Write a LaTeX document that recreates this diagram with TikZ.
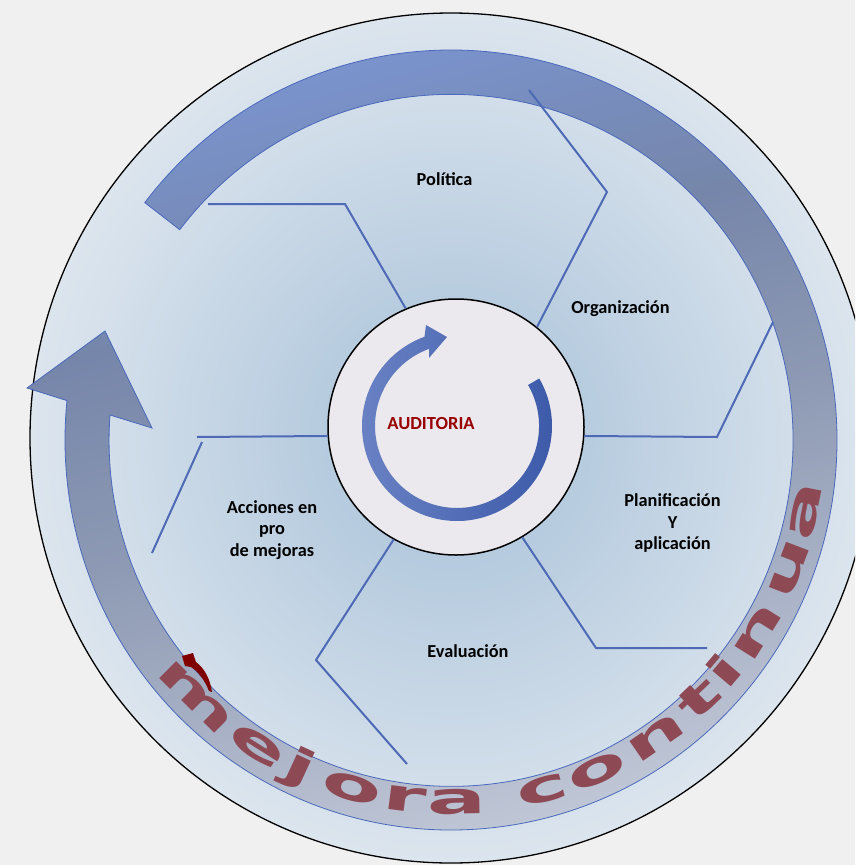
\documentclass[tikz,border=0pt]{standalone}
\usepackage{fontspec}
\setmainfont{Carlito}
\newfontfamily\wafont{DejaVu Sans}
\usetikzlibrary{arrows.meta}
\definecolor{bgc}{HTML}{F0F0F0}
\definecolor{discin}{HTML}{A6C0D8}
\definecolor{discout}{HTML}{DCE5EE}
\definecolor{sepblue}{HTML}{4E6AB6}
\definecolor{bandedge}{HTML}{4A68BC}
\definecolor{bandblue}{HTML}{7B96D4}
\definecolor{bandbg}{HTML}{788EC0}
\definecolor{bandgb}{HTML}{7686AA}
\definecolor{bandmid}{HTML}{8E9AB4}
\definecolor{bandlight}{HTML}{C6CCDA}
\definecolor{wared}{HTML}{8D4954}
\definecolor{hookred}{HTML}{800000}
\definecolor{audred}{HTML}{990000}
\definecolor{coreface}{HTML}{EBE9ED}
\definecolor{ringL}{HTML}{6A82C4}
\definecolor{ringR}{HTML}{3A58A8}
\pgfdeclareverticalshading{bandshade}{100bp}{color(0bp)=(bandlight); color(25bp)=(bandlight); color(48bp)=(bandmid); color(60bp)=(bandgb); color(68bp)=(bandbg); color(75bp)=(bandblue); color(100bp)=(bandblue)}
\tikzset{
  sepline/.style={draw=sepblue, line width=2pt},
  lab/.style={font=\fontsize{18.3}{21.5}\selectfont\bfseries, text=black, inner sep=0pt},
  waletter/.style={font=\wafont\bfseries\fontsize{44}{48}\selectfont, text=wared, inner sep=0pt, anchor=base},
}
\begin{document}
\begin{tikzpicture}[x=1pt,y=-1pt]
\useasboundingbox (0,0) rectangle (855,865);
\fill[bgc] (0,0) rectangle (855,865);
\clip (0,0) rectangle (855,865);
% outer disc
\path[draw=black, line width=1.3pt, inner color=discin, outer color=discout]
  (451,438) ellipse[x radius=421, y radius=425];
% big circular arrow band
\path[draw=bandedge, line width=0.8pt, shading=bandshade, shading angle=15]
  (451,440) ++(217.5:386 and 390)
  arc[start angle=217.5, end angle=545.8, x radius=386, y radius=390]
  -- (27,388) -- (105,331) -- (152,428) -- (110,415)
  arc[start angle=544.2, end angle=217.5, x radius=342, y radius=346] -- cycle;
% text along the band
\foreach \ch/\ang in {m/134.8, e/122.3, j/114.8, o/105.9, r/97.3, a/89.0, c/75.3, o/66.1, n/55.4, t/46.3, i/40.2, n/32.1, u/20.8, a/11.3}
  \path (451,440) ++(\ang:374) node[waletter, rotate=90-\ang, xscale=2.0] {\ch};
\fill[hookred] (182,656) -- (193,653) -- (196,662) .. controls (204,668) and (210,678) .. (212,692)
  -- (209,691) .. controls (205,681) and (199,672) .. (191,667) -- (185,666) -- cycle;
% central disc
\node[circle, draw=black, line width=1.5pt, fill=coreface, minimum size=256pt, inner sep=0pt] (aud) at (456,427) {};
% separator lines
\draw[sepline] (208,204) -- (345,204) -- (aud.113.6);
\draw[sepline] (529,90) -- (607,192) -- (aud.51.5);
\draw[sepline] (aud.-4.5) -- (717,437) -- (773,322);
\draw[sepline] (aud.-59) -- (596,648) -- (707,648);
\draw[sepline] (aud.-119.5) -- (316,660) -- (407,764);
\draw[sepline] (aud.184.5) -- (197,437);
\draw[sepline] (202,442) -- (152,553);
% inner circular arrow
\path[left color=ringL, right color=ringR]
  (457,426) ++(-30:95) arc[start angle=-30, end angle=250, radius=95]
  -- (426,325) -- (447,337) -- (429,358) -- (429,348.9)
  arc[start angle=250, end angle=-30, radius=82] -- cycle;
% labels
\node[font=\fontsize{18.5}{22}\selectfont\bfseries, text=audred, inner sep=0pt, anchor=base] (audtxt) at (431,429) {AUDITORIA};
\node[lab, anchor=base] (pol) at (444.5,185) {Política};
\node[lab, anchor=base] (org) at (620.5,313) {Organización};
\node[lab, align=center] (pla) at (672.5,523) {Planificación\\Y\\aplicación};
\node[lab, anchor=base] (eva) at (468,657) {Evaluación};
\node[lab, align=center] (acc) at (272,530) {Acciones en\\pro\\de mejoras};
\end{tikzpicture}
\end{document}
